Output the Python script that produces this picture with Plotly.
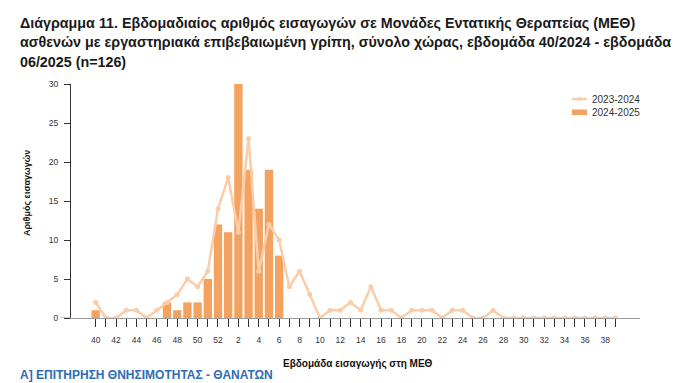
import plotly.graph_objects as go

weeks = [40, 41, 42, 43, 44, 45, 46, 47, 48, 49, 50, 51, 52] + list(range(1, 40))
tick_labels = [str(w) if w % 2 == 0 else "" for w in weeks]

season_2023_24 = [2, 0, 0, 1, 1, 0, 1, 2, 3, 5, 4, 6, 14,
                  18, 11, 23, 6, 12, 10, 4, 6, 3, 0, 1, 1, 2, 1, 4, 1, 1,
                  0, 1, 1, 1, 0, 1, 1, 0, 0, 1, 0, 0, 0, 0, 0, 0, 0, 0, 0, 0, 0, 0]
season_2024_25 = [1, 0, 0, 0, 0, 0, 0, 2, 1, 2, 2, 5, 12,
                  11, 30, 19, 14, 19, 8]

x_all = list(range(len(weeks)))
x_bar = x_all[:len(season_2024_25)]

BAR_C = "#F3A35F"
LINE_C = "#F9CDAA"
FONT = "Liberation Sans"

W, H = 688, 383
L, R, T, B = 71, 48, 84, 65
PW, PH = W - L - R, H - T - B


def px(x):
    return (x - L) / PW


def py(y):
    return (H - B - y) / PH


fig = go.Figure()
fig.add_trace(go.Bar(
    x=x_bar, y=season_2024_25, name="2024-2025",
    marker=dict(color=BAR_C, line=dict(width=0)), width=0.82,
    showlegend=False,
))
fig.add_trace(go.Scatter(
    x=x_all, y=season_2023_24, name="2023-2024",
    mode="lines+markers", line=dict(color=LINE_C, width=2.5),
    marker=dict(color=LINE_C, size=5), showlegend=False,
))

fig.update_layout(
    width=W, height=H,
    margin=dict(l=L, r=R, t=T, b=B, autoexpand=False),
    paper_bgcolor="white", plot_bgcolor="white",
    font=dict(family=FONT, size=9, color="#333333"),
    showlegend=False,
    xaxis=dict(
        range=[-2.42, 53.4], tickmode="array", tickvals=x_all, ticktext=tick_labels,
        ticks="outside", ticklen=8, tickwidth=1, tickcolor="#333333",
        showline=True, linecolor="#9a9a9a", linewidth=1,
        showgrid=False, zeroline=False, tickangle=0, automargin=False,
        tickfont=dict(size=8.5, color="#333333"), ticklabelstandoff=6,
    ),
    yaxis=dict(
        range=[0, 30], tickvals=[0, 5, 10, 15, 20, 25, 30],
        ticks="outside", ticklen=6, tickwidth=1, tickcolor="#333333",
        showline=True, linecolor="#333333", linewidth=1,
        showgrid=False, zeroline=False, automargin=False,
        tickfont=dict(size=8.5, color="#333333"), ticklabelstandoff=4,
    ),
)

# baseline extension to the left of y-axis
fig.add_shape(type="line", xref="paper", yref="y", x0=px(60), x1=0, y0=0, y1=0,
              line=dict(color="#9a9a9a", width=1))

# manual legend
fig.add_shape(type="line", xref="paper", yref="paper", x0=px(572), x1=px(587),
              y0=py(99), y1=py(99), line=dict(color=LINE_C, width=2.5))
fig.add_shape(type="circle", xref="paper", yref="paper", x0=px(577.5), x1=px(581.5),
              y0=py(97), y1=py(101), line=dict(width=0), fillcolor=LINE_C)
fig.add_shape(type="rect", xref="paper", yref="paper", x0=px(572), x1=px(587),
              y0=py(109.5), y1=py(115), line=dict(width=0), fillcolor=BAR_C)
for txt, yy in [("2023-2024", 99), ("2024-2025", 112)]:
    fig.add_annotation(text=txt, xref="paper", yref="paper", x=px(590), y=py(yy),
                       xanchor="left", yanchor="middle", showarrow=False,
                       font=dict(family=FONT, size=10, color="#333333"))

title_lines = [
    "Διάγραμμα 11. Εβδομαδιαίος αριθμός εισαγωγών σε Μονάδες Εντατικής Θεραπείας (ΜΕΘ)",
    "ασθενών με εργαστηριακά επιβεβαιωμένη γρίπη, σύνολο χώρας, εβδομάδα 40/2024 - εβδομάδα",
    "06/2025 (n=126)",
]
for i, t in enumerate(title_lines):
    fig.add_annotation(text="<b>" + t + "</b>", xref="paper", yref="paper",
                       x=px(18), y=py(23 + 19.5 * i),
                       xanchor="left", yanchor="middle", showarrow=False,
                       font=dict(family=FONT, size=14.3, color="#1a1a1a"))

fig.add_annotation(text="<b>Αριθμός εισαγωγών</b>", xref="paper", yref="paper",
                   x=px(27), y=py(193), textangle=-90,
                   showarrow=False, xanchor="center", yanchor="middle",
                   font=dict(family=FONT, size=9, color="#111111"))
fig.add_annotation(text="<b>Εβδομάδα εισαγωγής στη ΜΕΘ</b>", xref="paper", yref="paper",
                   x=px(358), y=py(364),
                   showarrow=False, xanchor="center", yanchor="middle",
                   font=dict(family=FONT, size=10, color="#111111"))
fig.add_annotation(text="<b>Α] ΕΠΙΤΗΡΗΣΗ ΘΝΗΣΙΜΟΤΗΤΑΣ - ΘΑΝΑΤΩΝ</b>", xref="paper", yref="paper",
                   x=px(18), y=py(384),
                   showarrow=False, xanchor="left", yanchor="bottom",
                   font=dict(family=FONT, size=12, color="#2E6DB4"))

fig.write_html("out.html", config={"displayModeBar": False},
               post_script="document.body.style.margin='0';")
